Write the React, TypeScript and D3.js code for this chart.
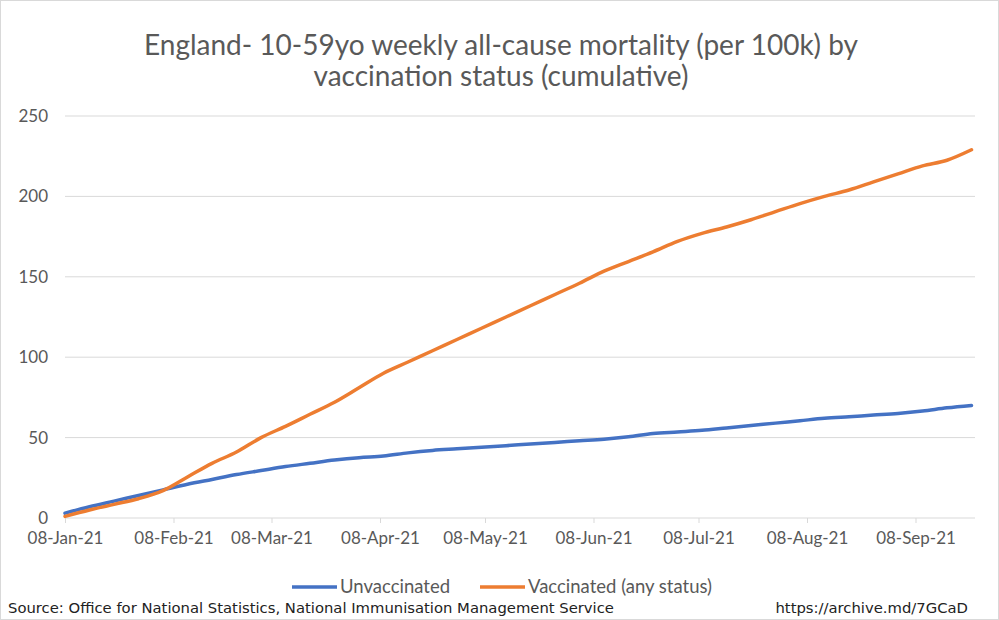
import React, { useRef, useEffect } from 'react';
import * as d3 from 'd3';

// weekly dates, Fridays from 08-Jan-21
const weekStarts: string[] = [
    '2021-01-08', '2021-01-15', '2021-01-22', '2021-01-29', '2021-02-05', '2021-02-12',
    '2021-02-19', '2021-02-26', '2021-03-05', '2021-03-12', '2021-03-19', '2021-03-26',
    '2021-04-02', '2021-04-09', '2021-04-16', '2021-04-23', '2021-04-30', '2021-05-07',
    '2021-05-14', '2021-05-21', '2021-05-28', '2021-06-04', '2021-06-11', '2021-06-18',
    '2021-06-25', '2021-07-02', '2021-07-09', '2021-07-16', '2021-07-23', '2021-07-30',
    '2021-08-06', '2021-08-13', '2021-08-20', '2021-08-27', '2021-09-03', '2021-09-10',
    '2021-09-17', '2021-09-24',
];

const unvaccinated: number[] = [
    3, 7, 10.5, 14, 17.5, 21, 24, 27, 29.5, 32, 34, 36,
    37.5, 38.5, 40.5, 42, 43, 44, 45, 46, 47, 48, 49, 50.5,
    52.5, 53.5, 54.5, 56, 57.5, 59, 60.5, 62, 63, 64, 65, 66.5,
    68.5, 70,
];

const vaccinated: number[] = [
    1, 5, 8.5, 12, 17, 25.5, 34, 41, 50, 57, 64.5, 72,
    81, 90, 97, 104, 111, 118, 125, 132, 139, 146, 153.5, 159.5,
    165.5, 172, 177, 181, 185.5, 190.5, 195.5, 200, 204, 209, 214, 219,
    222.5, 229,
];

const yTicks: number[] = [0, 50, 100, 150, 200, 250];
const xTickDates: string[] = [
    '2021-01-08', '2021-02-08', '2021-03-08', '2021-04-08', '2021-05-08',
    '2021-06-08', '2021-07-08', '2021-08-08', '2021-09-08',
];

const seriesNames = ['Unvaccinated', 'Vaccinated (any status)'];
const seriesColors = ['#4472C4', '#ED7D31'];

const titleLines = [
    'England- 10-59yo weekly all-cause mortality (per 100k) by',
    'vaccination status (cumulative)',
];

const W = 999;
const H = 620;
const FONT = 'Lato, "Open Sans", sans-serif';
const NOTE_FONT = '"DejaVu Sans", Verdana, sans-serif';

const drawChart = (svg: d3.Selection<SVGSVGElement, unknown, null, undefined>): void => {
    svg.selectAll('*').remove();

    const parse = d3.timeParse('%Y-%m-%d');
    const dates = weekStarts.map(d => parse(d)!);

    const x = d3.scaleTime()
        .domain([parse('2021-01-08')!, parse('2021-09-25')!])
        .range([65, 975]);

    const y = d3.scaleLinear()
        .domain([0, 250])
        .range([518, 116]);

    // background and border
    svg.append('rect')
        .attr('x', 0.5).attr('y', 0.5)
        .attr('width', W - 1).attr('height', H - 1)
        .attr('fill', '#fff')
        .attr('stroke', '#d9d9d9');

    // title
    svg.append('g')
        .selectAll('text')
        .data(titleLines)
        .enter().append('text')
        .attr('x', 501)
        .attr('y', (_, i) => 55 + i * 31)
        .attr('text-anchor', 'middle')
        .attr('font-family', FONT)
        .attr('font-size', 28)
        .attr('fill', '#595959')
        .text(d => d);

    // gridlines
    svg.append('g')
        .selectAll('line')
        .data(yTicks)
        .enter().append('line')
        .attr('x1', 65).attr('x2', 975)
        .attr('y1', d => y(d)).attr('y2', d => y(d))
        .attr('stroke', '#d9d9d9')
        .attr('stroke-width', 1);

    // y axis labels
    const yAxis = svg.append('g')
        .attr('transform', 'translate(65,0)')
        .call(d3.axisLeft(y).tickValues(yTicks).tickSize(0).tickPadding(17));
    yAxis.select('.domain').remove();
    yAxis.selectAll('text')
        .attr('font-family', FONT)
        .attr('font-size', 17)
        .attr('fill', '#595959');

    // x axis
    const xTicks = xTickDates.map(d => parse(d)!);
    const xAxis = svg.append('g')
        .attr('transform', `translate(0,${y(0)})`)
        .call(d3.axisBottom(x)
            .tickValues(xTicks)
            .tickFormat(d => d3.timeFormat('%d-%b-%y')(d as Date))
            .tickSize(5)
            .tickPadding(9));
    xAxis.select('.domain').remove();
    xAxis.selectAll('.tick line').attr('stroke', '#d9d9d9');
    xAxis.selectAll('text')
        .attr('font-family', FONT)
        .attr('font-size', 17)
        .attr('fill', '#595959');

    // lines
    const line = d3.line<number>()
        .x((_, i) => x(dates[i]))
        .y(d => y(d))
        .curve(d3.curveMonotoneX);

    [unvaccinated, vaccinated].forEach((s, i) => {
        svg.append('path')
            .datum(s)
            .attr('d', line)
            .attr('fill', 'none')
            .attr('stroke', seriesColors[i])
            .attr('stroke-width', 3.5)
            .attr('stroke-linejoin', 'round')
            .attr('stroke-linecap', 'round');
    });

    // legend
    const legendX = [292, 480];
    const legend = svg.append('g');
    seriesNames.forEach((name, i) => {
        legend.append('line')
            .attr('x1', legendX[i]).attr('x2', legendX[i] + 45)
            .attr('y1', 587).attr('y2', 587)
            .attr('stroke', seriesColors[i])
            .attr('stroke-width', 3.5);
        legend.append('text')
            .attr('x', legendX[i] + 48)
            .attr('y', 593)
            .attr('font-family', FONT)
            .attr('font-size', 18.5)
            .attr('fill', '#595959')
            .text(name);
    });

    // source notes
    svg.append('text')
        .attr('x', 8).attr('y', 613)
        .attr('font-family', NOTE_FONT)
        .attr('font-size', 14.8)
        .attr('fill', '#222')
        .text('Source: Office for National Statistics, National Immunisation Management Service');
    svg.append('text')
        .attr('x', 968).attr('y', 613)
        .attr('text-anchor', 'end')
        .attr('font-family', NOTE_FONT)
        .attr('font-size', 14.8)
        .attr('fill', '#222')
        .text('https://archive.md/7GCaD');
};

const App: React.FC = () => {
    const ref = useRef<SVGSVGElement>(null);

    useEffect(() => {
        if (ref.current) {
            drawChart(d3.select(ref.current));
        }
    }, []);

    return (
        <svg
            ref={ref}
            width={W}
            height={H}
            style={{ position: 'absolute', left: 0, top: 0, display: 'block' }}
        />
    );
};

export default App;
